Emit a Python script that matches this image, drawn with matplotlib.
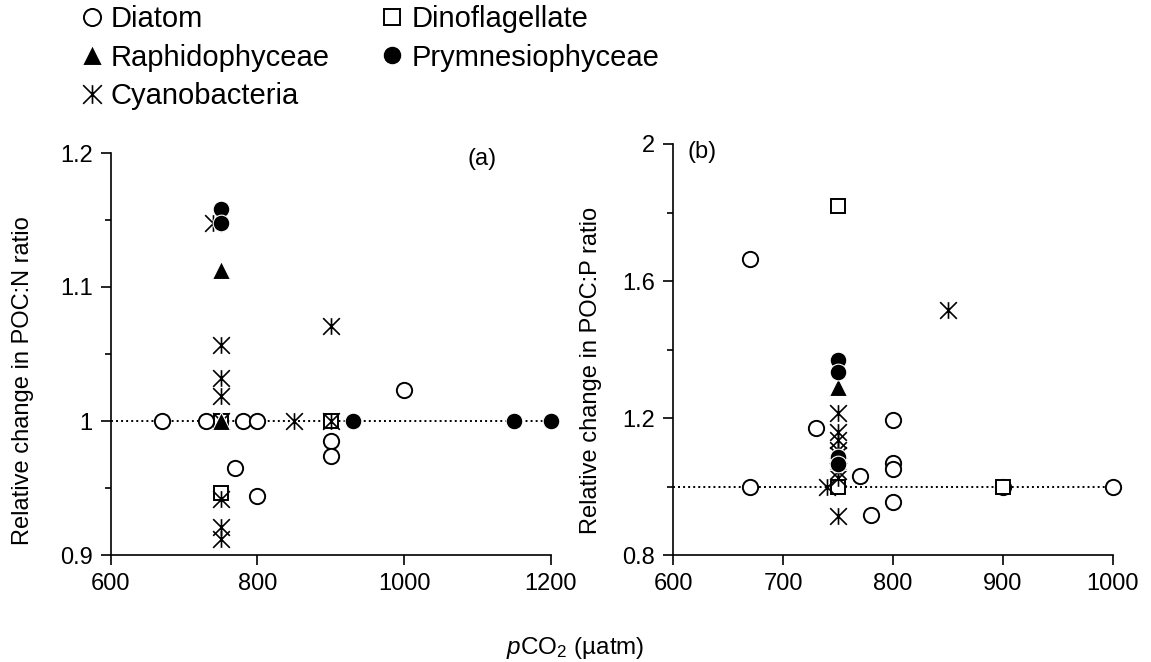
import matplotlib
matplotlib.use("Agg")
import matplotlib.pyplot as plt
from matplotlib.lines import Line2D
from matplotlib.path import Path

plt.rcParams['font.family'] = ['Liberation Sans', 'DejaVu Sans']
plt.rcParams['mathtext.fontset'] = 'custom'
plt.rcParams['mathtext.rm'] = 'Liberation Sans'
plt.rcParams['mathtext.it'] = 'Liberation Sans:italic'

# ---------------- data (pCO2, relative change) ----------------
# Panel (a): POC:N
a_diatom_x = [670, 730, 780, 800, 770, 800, 1000, 900, 900]
a_diatom_y = [1.0, 1.0, 1.0, 1.0, 0.965, 0.944, 1.023, 0.985, 0.974]
a_dino_x = [750, 750, 900]
a_dino_y = [1.0, 0.946, 1.0]
a_cyano_x = [740, 750, 750, 750, 850, 900, 900, 750, 750, 750, 750]
a_cyano_y = [1.148, 1.057, 1.032, 1.019, 1.0, 1.071, 1.0, 1.0, 0.942, 0.921, 0.912]
a_raphido_x = [750, 750]
a_raphido_y = [1.113, 1.0]
a_prymn_x = [750, 750, 930, 1150, 1200]
a_prymn_y = [1.158, 1.148, 1.0, 1.0, 1.0]

# Panel (b): POC:P
b_diatom_x = [670, 670, 730, 770, 780, 800, 800, 800, 800, 1000, 900]
b_diatom_y = [1.665, 1.0, 1.17, 1.03, 0.917, 1.195, 1.07, 1.05, 0.956, 1.0, 1.0]
b_dino_x = [750, 750, 900]
b_dino_y = [1.82, 1.0, 1.0]
b_cyano_x = [850, 740, 750, 750, 750, 750, 750, 750, 750, 750]
b_cyano_y = [1.515, 1.0, 1.215, 1.16, 1.135, 1.107, 1.092, 1.045, 1.025, 0.915]
b_raphido_x = [750, 750]
b_raphido_y = [1.29, 1.075]
b_prymn_x = [750, 750, 750, 750]
b_prymn_y = [1.37, 1.335, 1.085, 1.065]

a_xticks = [600, 800, 1000, 1200]
a_yticks = [0.9, 1.0, 1.1, 1.2]
a_yticklabels = ['0.9', '1', '1.1', '1.2']
b_xticks = [600, 700, 800, 900, 1000]
b_yticks = [0.8, 1.2, 1.6, 2.0]
b_yticklabels = ['0.8', '1.2', '1.6', '2']

FS = 17
LFS = 21
MS = 11

# asterisk: vertical bar plus an X
ast = Path([(0, -1), (0, 1), (-1.0, -1), (1.0, 1), (-1.0, 1), (1.0, -1)],
           [Path.MOVETO, Path.LINETO, Path.MOVETO, Path.LINETO, Path.MOVETO, Path.LINETO])

styles = {
    'Diatom': dict(marker='o', mfc='white', mec='black', mew=1.4, ms=MS),
    'Dinoflagellate': dict(marker='s', mfc='white', mec='black', mew=1.4, ms=MS - 0.5),
    'Cyanobacteria': dict(marker=ast, mfc='black', mec='black', mew=1.2, ms=MS + 1),
    'Raphidophyceae': dict(marker='^', mfc='black', mec='white', mew=0.8, ms=MS + 2),
    'Prymnesiophyceae': dict(marker='o', mfc='black', mec='white', mew=0.8, ms=MS + 1),
}

fig = plt.figure(figsize=(11.51, 6.62), dpi=100)
W, H = 1151, 662
ax_a = fig.add_axes([110.7 / W, 107 / H, 440 / W, 402 / H])
ax_b = fig.add_axes([673 / W, 107 / H, 440 / W, 411 / H])


def draw(ax, series, xlim, ylim, xticks, yticks, yticklabels, yminor, ylabel, tag, tagpos, ha):
    ax.plot([xlim[0], max(max(s[0]) for s in series.values())], [1.0, 1.0],
            linestyle=(0, (1, 1.6)), color='black', lw=1.4, zorder=1)
    for i, name in enumerate(['Diatom', 'Dinoflagellate', 'Cyanobacteria', 'Raphidophyceae', 'Prymnesiophyceae']):
        xs, ys = series[name]
        ax.plot(xs, ys, linestyle='none', zorder=2 + i, clip_on=False, **styles[name])
    ax.set_xlim(*xlim)
    ax.set_ylim(*ylim)
    ax.set_xticks(xticks)
    ax.set_xticklabels([str(t) for t in xticks])
    ax.set_yticks(yticks)
    ax.set_yticklabels(yticklabels)
    ax.set_yticks(yminor, minor=True)
    for s in ['top', 'right']:
        ax.spines[s].set_visible(False)
    for s in ['left', 'bottom']:
        ax.spines[s].set_linewidth(1.2)
    ax.tick_params(axis='both', which='major', direction='out', length=7, width=1.2,
                   labelsize=FS, pad=6)
    ax.tick_params(axis='y', which='minor', direction='out', length=4, width=1.2)
    ax.set_ylabel(ylabel, fontsize=FS)
    ax.text(tagpos[0], tagpos[1], tag, transform=ax.transAxes, fontsize=FS, ha=ha, va='center')


draw(ax_a,
     {'Diatom': (a_diatom_x, a_diatom_y), 'Dinoflagellate': (a_dino_x, a_dino_y),
      'Cyanobacteria': (a_cyano_x, a_cyano_y), 'Raphidophyceae': (a_raphido_x, a_raphido_y),
      'Prymnesiophyceae': (a_prymn_x, a_prymn_y)},
     (600, 1200), (0.9, 1.2), a_xticks, a_yticks, a_yticklabels, [0.95, 1.05, 1.15],
     'Relative change in POC:N ratio', '(a)', (0.845, 0.985), 'center')
draw(ax_b,
     {'Diatom': (b_diatom_x, b_diatom_y), 'Dinoflagellate': (b_dino_x, b_dino_y),
      'Cyanobacteria': (b_cyano_x, b_cyano_y), 'Raphidophyceae': (b_raphido_x, b_raphido_y),
      'Prymnesiophyceae': (b_prymn_x, b_prymn_y)},
     (600, 1000), (0.8, 2.0), b_xticks, b_yticks, b_yticklabels, [1.0, 1.4, 1.8],
     'Relative change in POC:P ratio', '(b)', (0.033, 0.98), 'left')

ax_a.yaxis.set_label_coords(-0.174, 0.435)
ax_b.yaxis.set_label_coords(-0.161, 0.45)

fig.text(575.5 / W, 1 - 648 / H, r'$p$CO$_2$ (µatm)', fontsize=FS + 0.5, ha='center', va='center')

order = ['Diatom', 'Raphidophyceae', 'Cyanobacteria', 'Dinoflagellate', 'Prymnesiophyceae']
handles = [Line2D([], [], linestyle='none', **styles[n]) for n in order]
fig.legend(handles, order, loc='upper left', bbox_to_anchor=(80 / W, 1 - 5 / H), ncol=2,
           frameon=False, fontsize=LFS, handlelength=0.8, handletextpad=0.25,
           labelspacing=0.36, columnspacing=1.75, borderpad=0, borderaxespad=0,
           markerscale=1.12)

fig.savefig('out.png', dpi=100)
